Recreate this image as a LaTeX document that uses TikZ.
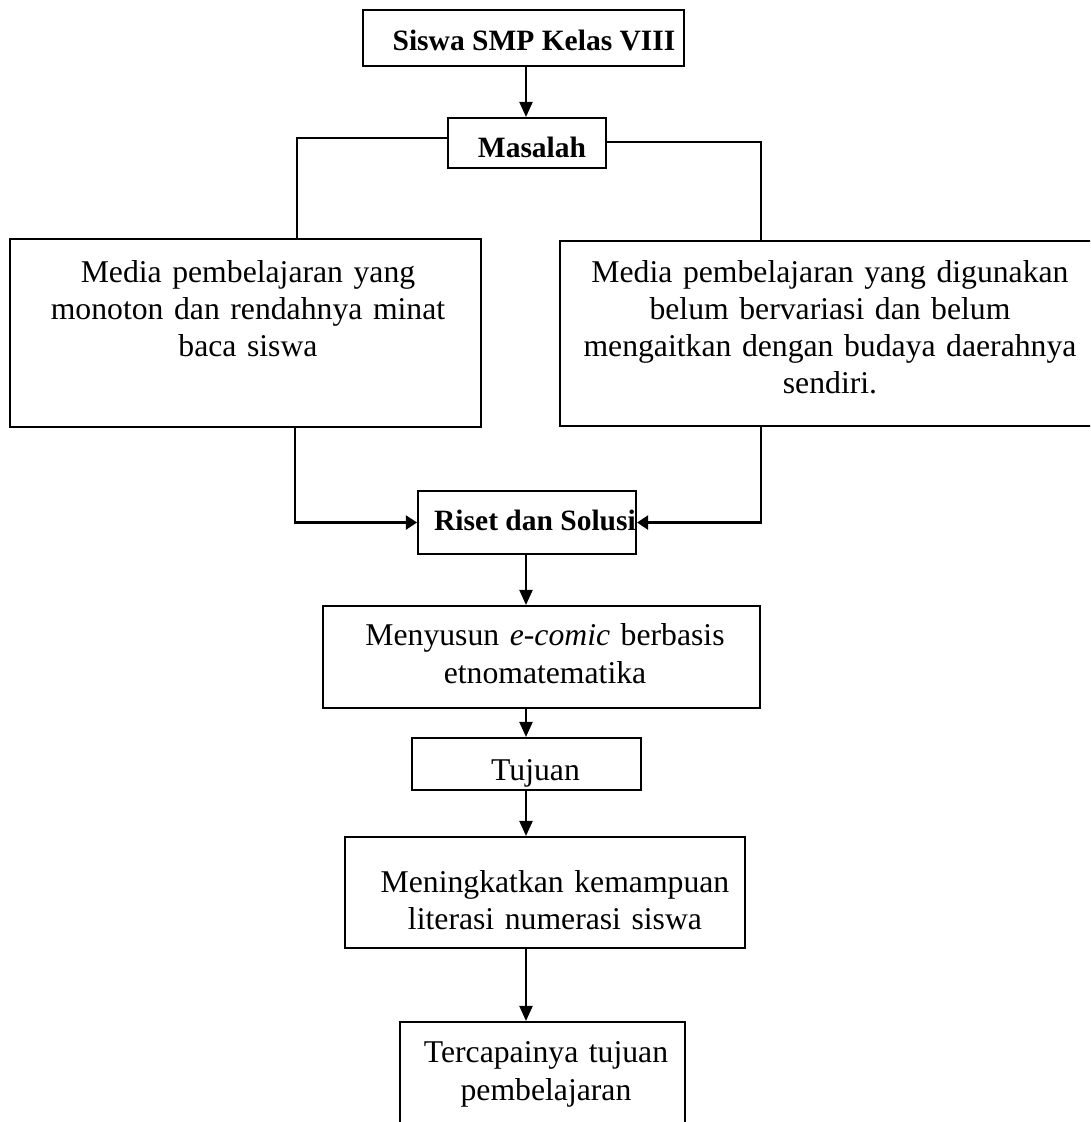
\documentclass[tikz,border=0pt]{standalone}
\usepackage{fontspec}
\setmainfont{Liberation Serif}
\usetikzlibrary{arrows.meta}
\begin{document}
\begin{tikzpicture}[x=1pt,y=-1pt,
  box/.style={draw, line width=2.1pt, inner sep=0pt},
  ln/.style={draw, line width=2.1pt},
  arr/.style={ln, -{Triangle[length=15pt,width=13pt]}},
  harr/.style={ln, -{Triangle[length=11pt,width=14pt]}},
  txt/.style={inner sep=0pt, align=center, font=\fontsize{31.7}{37}\selectfont},
  btxt/.style={inner sep=0pt, font=\fontsize{29.5}{36}\selectfont\bfseries}]
\useasboundingbox (0,0) rectangle (1090,1122);
\fill[white] (0,0) rectangle (1090,1122);
\clip (0,0) rectangle (1090,1122);
% boxes
\node[box, minimum width=321pt, minimum height=56pt] (top) at (523.5,38) {};
\node[box, minimum width=158pt, minimum height=50pt] (masalah) at (527,143) {};
\node[box, minimum width=471pt, minimum height=188pt] (left) at (245.5,333) {};
\node[box, minimum width=560pt, minimum height=185pt] (right) at (840,333.5) {};
\node[box, minimum width=218pt, minimum height=63pt] (riset) at (527,522.5) {};
\node[box, minimum width=437pt, minimum height=102pt] (menyusun) at (541.5,657) {};
\node[box, minimum width=229pt, minimum height=52pt] (tujuan) at (526.5,764) {};
\node[box, minimum width=400pt, minimum height=111pt] (mening) at (545,892.5) {};
\node[box, minimum width=285pt, minimum height=128pt] (tercap) at (542.5,1086) {};
% texts
\node[btxt, anchor=base] (topT) at (534,50) {Siswa SMP Kelas VIII};
\node[btxt, anchor=base] (masalahT) at (532,157) {Masalah};
\node[txt, text width=460pt, anchor=base] (leftT) at (248,282) {Media pembelajaran yang\\monoton dan rendahnya minat\\baca siswa};
\node[txt, text width=520pt, anchor=base] (rightT) at (830,282) {Media pembelajaran yang digunakan\\belum bervariasi dan belum\\mengaitkan dengan budaya daerahnya\\sendiri.};
\node[btxt, anchor=base] (risetT) at (535,530) {Riset dan Solusi};
\node[txt, text width=430pt, anchor=base, font=\fontsize{31.7}{38}\selectfont] (menyusunT) at (545,645) {Menyusun \textit{e-comic} berbasis\\etnomatematika};
\node[txt, anchor=base] (tujuanT) at (535.5,780) {Tujuan};
\node[txt, text width=390pt, anchor=base] (meningT) at (555,892) {Meningkatkan kemampuan\\literasi numerasi siswa};
\node[txt, text width=280pt, anchor=base, font=\fontsize{31.7}{38}\selectfont] (tercapT) at (546,1062) {Tercapainya tujuan\\pembelajaran};
% connectors
\coordinate (spine) at (526,0);
\coordinate (lcol) at (297,0);
\coordinate (lcolb) at (295,0);
\coordinate (rcol) at (761,0);
\draw[arr] (spine |- top.south) -- (spine |- masalah.north);
\draw[ln] ([yshift=5pt]masalah.west) -| (lcol |- left.north);
\draw[ln] ([yshift=1pt]masalah.east) -| (rcol |- right.north);
\draw[harr] (lcolb |- left.south) |- (riset.west);
\draw[harr] (rcol |- right.south) |- (riset.east);
\draw[arr] (spine |- riset.south) -- (spine |- menyusun.north);
\draw[arr] (spine |- menyusun.south) -- (spine |- tujuan.north);
\draw[arr] (spine |- tujuan.south) -- (spine |- mening.north);
\draw[arr] (spine |- mening.south) -- (spine |- tercap.north);
\end{tikzpicture}
\end{document}
